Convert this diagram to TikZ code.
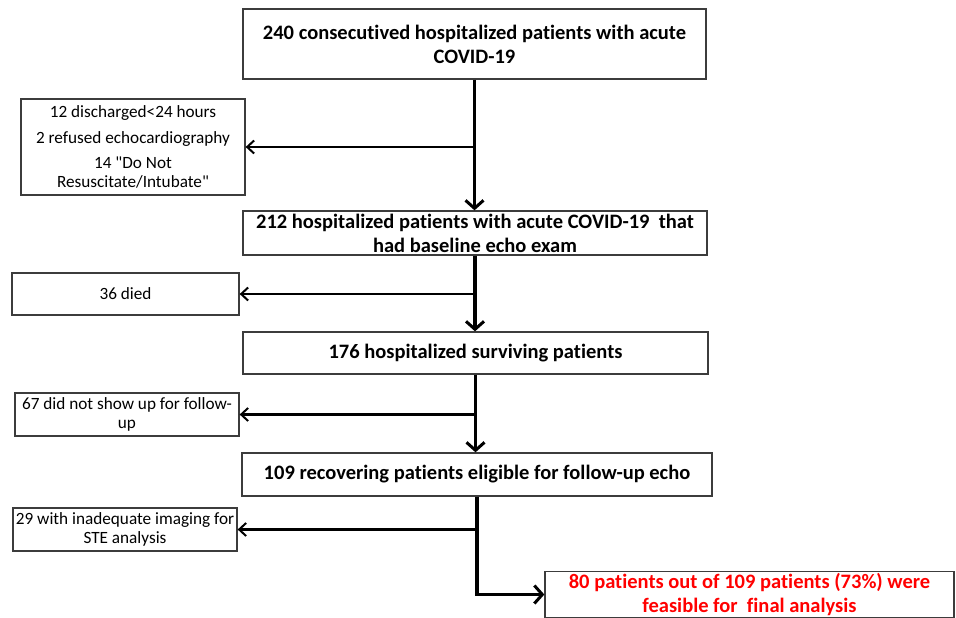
\documentclass[tikz,border=0pt]{standalone}
\usepackage{fontspec}
\setmainfont{Carlito}[Ligatures={NoCommon}]
\usetikzlibrary{arrows.meta}
\definecolor{boxline}{RGB}{60,60,60}
\definecolor{redtext}{RGB}{255,0,0}
\begin{document}
\begin{tikzpicture}[x=1pt,y=1pt,yscale=-1,xscale=1,
    mainbox/.style={draw=boxline,line width=1.3pt,fill=white,inner sep=2pt,align=center,font=\fontsize{20.5}{24}\selectfont\bfseries},
    sidebox/.style={draw=boxline,line width=1.3pt,fill=white,inner sep=2pt,align=center,font=\fontsize{17.2}{19}\selectfont},
    trunk/.style={line width=3.6pt,-{Straight Barb[length=8pt,width=18pt,line width=3pt]}},
    branch/.style={line width=2.3pt,-{Straight Barb[length=7pt,width=13pt,line width=2pt]}}]
    \useasboundingbox (0,0) rectangle (956,618);

    %Shape: Rectangle [main column]
    \node [mainbox,minimum width=463pt,minimum height=70pt] (total) at (474.5,44) {240 consecutived hospitalized patients with acute\\COVID-19};
    \node [mainbox,minimum width=464pt,minimum height=44pt] (baseline) at (475,233) {212 hospitalized patients with acute COVID-19\ \ that\\had baseline echo exam};
    \node [mainbox,minimum width=465pt,minimum height=42pt] (survive) at (475.5,353) {176 hospitalized surviving patients};
    \node [mainbox,minimum width=470pt,minimum height=43pt] (eligible) at (477,474.5) {109 recovering patients eligible for follow-up echo};
    \node [mainbox,minimum width=409pt,minimum height=42pt,text=redtext] (final) at (749.5,594.5) {80 patients out of 109 patients (73\%) were\\feasible for\ \ final analysis};

    %Shape: Rectangle [excluded]
    \node [sidebox,minimum width=224pt,minimum height=96pt] (exclA) at (133,147) {12 discharged<24 hours\\[6.5pt]2 refused echocardiography\\[6pt]14 \textquotedbl Do Not\\Resuscitate/Intubate\textquotedbl};
    \node [sidebox,minimum width=227pt,minimum height=42pt] (exclB) at (125.5,294) {36 died};
    \node [sidebox,minimum width=224pt,minimum height=43pt] (exclC) at (127,414.5) {67 did not show up for follow-\\up};
    \node [sidebox,minimum width=224pt,minimum height=43pt] (exclD) at (125,529.5) {29 with inadequate imaging for\\STE analysis};

    %Straight Lines [trunk]
    \draw [trunk] (total.south) -- (total.south |- baseline.north);
    \draw [trunk] (baseline.south) -- (baseline.south |- survive.north);
    \draw [trunk] (survive.south) -- (survive.south |- eligible.north);
    \draw [trunk] (eligible.south) |- (final.west);

    %Straight Lines [branches]
    \draw [branch] (total.south |- exclA.east) -- (exclA.east);
    \draw [branch] (baseline.south |- exclB.east) -- (exclB.east);
    \draw [branch] (survive.south |- exclC.east) -- (exclC.east);
    \draw [branch] (eligible.south |- exclD.east) -- (exclD.east);

\end{tikzpicture}
\end{document}
